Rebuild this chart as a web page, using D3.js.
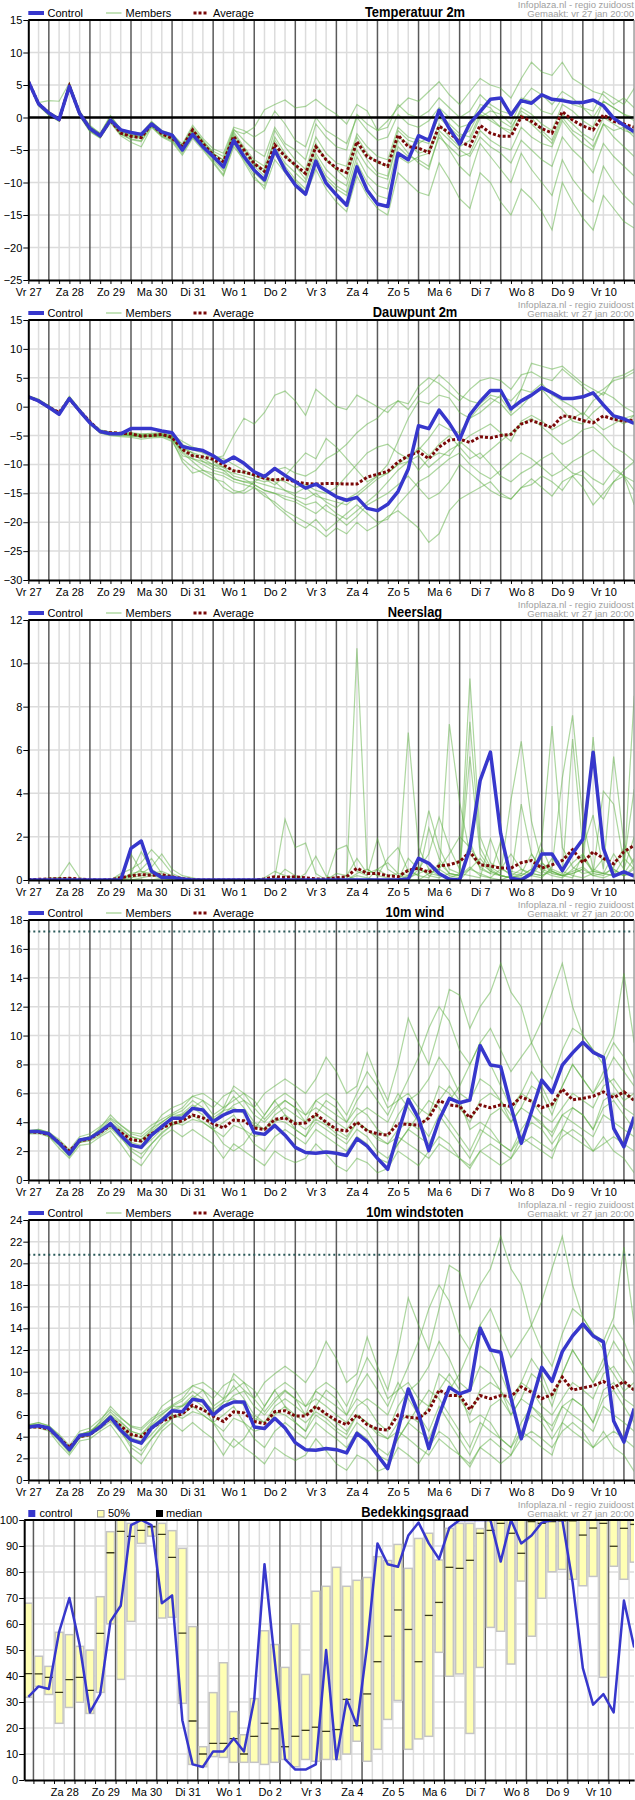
<!DOCTYPE html>
<html>
<head>
<meta charset="utf-8">
<script src="https://cdn.jsdelivr.net/npm/d3@7"></script>
<style>
body { margin: 0; background: #fff; }
svg { display: block; }
</style>
</head>
<body>
<div id="chart"></div>
<script>
// ---- data (6-hourly, Fri 27 18:00 .. Sat 11 06:00) ----
var firstLabel = "Vr 27";
var dayLabels = ["Za 28","Zo 29","Ma 30","Di 31","Wo 1","Do 2","Vr 3","Za 4","Zo 5","Ma 6","Di 7","Wo 8","Do 9","Vr 10"];
var sourceText = "Infoplaza.nl - regio zuidoost";
var madeText = "Gemaakt: vr 27 jan 20:00";

var tempTicks = [-25,-20,-15,-10,-5,0,5,10,15];
var tempControl = [5.6,2.1,0.7,-0.3,4.8,0.6,-1.7,-2.8,-0.4,-1.9, -2.3,-2.6,-1.0,-2.2,-2.7,-5.0,-2.6,-4.5,-6.0,-7.6, -3.5,-6.0,-8.1,-9.6,-5.0,-8.1,-10.4,-11.8,-6.7,-10.1, -11.9,-13.5,-7.6,-11.2,-13.3,-13.7,-5.5,-6.5,-2.8,-3.5, 1.1,-1.7,-4.1,-0.9,0.9,2.8,3.0,0.4,2.6,2.2, 3.5,2.8,2.6,2.3,2.3,2.7,1.8,-0.1,-1.2,-2.2];
var tempAverage = [5.6,2.1,0.7,-0.3,4.8,0.6,-1.7,-2.8,-0.4,-2.4, -2.9,-3.1,-1.0,-2.5,-3.2,-4.5,-1.9,-4.0,-5.8,-6.8, -2.9,-5.0,-7.1,-8.3,-4.2,-6.0,-7.3,-8.6,-4.5,-6.5, -7.8,-8.5,-3.7,-6.0,-6.8,-7.5,-2.7,-4.5,-4.7,-5.4, -1.3,-2.4,-3.7,-4.4,-1.2,-2.4,-2.9,-2.9,0.1,-0.6, -1.7,-2.4,0.9,-0.4,-1.3,-1.9,0.4,-0.6,-1.0,-1.5];
var tempMembers = [
  [5.6,2.3,2.6,2.5,5.3,1.0,-1.2,-2.5,0.2,-1.8,-2.2,-2.4,-0.6,-2.0,-2.5, -4.2,-1.8,-3.5,-5.5,-6.5,-2.0,-2.5,-1.5,1.2,2.0,2.7,1.5,1.7,2.8,1.5, 0.5,-1.0,2.0,1.0,-2.0,-0.5,1.5,3.0,2.5,4.0,5.5,3.5,2.0,4.0,6.0, 5.0,4.5,3.0,6.0,8.5,7.0,6.5,8.5,6.0,5.0,4.0,3.5,2.0,3.0,1.5],
  [5.5,1.8,0.3,-0.6,4.6,0.2,-2.2,-3.2,-0.8,-2.8,-3.8,-4.5,-1.5,-3.0,-3.8, -5.8,-3.2,-5.0,-7.0,-9.0,-4.5,-6.5,-9.0,-11.0,-6.5,-8.5,-10.5,-12.0,-8.0,-11.0, -13.0,-14.5,-9.0,-12.0,-14.0,-15.0,-8.5,-10.0,-11.5,-12.0,-7.0,-9.5,-12.5,-14.0,-8.5, -10.0,-13.0,-15.0,-11.0,-12.5,-14.5,-17.3,-10.0,-13.0,-15.5,-17.3,-12.0,-14.0,-16.0,-17.0],
  [5.6,2.0,0.8,-0.2,5.0,0.8,-1.5,-2.6,0.0,-2.2,-2.7,-2.9,-0.8,-2.4,-3.0, -4.6,-2.0,-3.8,-5.5,-6.6,-2.2,-4.5,-6.5,-7.5,-2.0,-4.5,-6.5,-8.0,-3.0,-5.5, -7.0,-7.5,-2.5,-4.5,-6.0,-6.5,-1.5,-3.0,-3.5,-4.0,0.5,-1.0,-2.5,-3.0,0.5, -0.5,-1.5,-2.0,1.5,0.5,-1.0,-2.0,2.0,1.0,-0.5,-1.5,2.5,1.5,0.5,0.0],
  [5.4,1.9,0.4,-0.5,4.7,0.4,-2.0,-3.0,-0.6,-2.6,-3.3,-3.6,-1.3,-2.8,-3.5, -5.2,-2.8,-4.5,-6.5,-8.2,-3.8,-6.2,-8.5,-10.0,-5.5,-8.2,-9.8,-11.5,-6.0,-9.0, -10.5,-11.5,-6.0,-9.0,-10.5,-11.0,-4.5,-6.0,-6.5,-7.5,-3.0,-4.5,-6.0,-5.5,-2.0, -3.5,-4.5,-5.0,-1.5,-3.0,-4.0,-4.5,-0.5,-2.5,-4.0,-5.0,-1.0,-3.0,-4.5,-6.0],
  [5.6,2.1,0.6,-0.3,4.9,0.7,-1.6,-2.7,-0.3,-2.1,-2.5,-2.8,-0.9,-2.3,-2.9, -4.4,-1.5,-3.6,-5.2,-6.0,-1.8,-3.5,-5.0,-6.0,-1.5,-4.0,-5.0,-6.5,-1.0,-3.0, -4.5,-5.0,0.5,-1.0,-2.0,-1.5,2.0,0.5,0.0,1.0,3.0,1.5,0.0,1.0,3.5, 2.0,1.0,0.5,3.0,2.5,1.0,0.5,3.0,2.0,1.5,0.0,2.5,1.5,0.5,-0.5],
  [5.6,2.0,0.5,-0.4,4.8,0.5,-1.9,-2.9,-0.5,-2.4,-3.0,-3.2,-1.1,-2.6,-3.3, -4.9,-2.4,-4.2,-6.0,-7.5,-3.0,-5.5,-7.5,-9.0,-4.5,-7.0,-8.5,-10.0,-5.5,-8.0, -9.5,-10.5,-5.0,-7.5,-9.0,-9.5,-3.5,-5.5,-7.0,-8.0,-2.5,-5.0,-7.5,-9.0,-4.0, -6.0,-8.0,-10.0,-5.5,-8.0,-10.0,-12.0,-6.5,-9.5,-11.5,-13.0,-7.5,-10.0,-12.0,-13.5],
  [5.5,2.2,0.9,0.0,5.2,0.9,-1.4,-2.4,0.3,-1.8,-2.3,-2.6,-0.7,-2.1,-2.6, -4.1,-1.2,-3.2,-4.8,-5.5,-1.5,-2.0,-3.0,-2.0,1.0,-1.0,-3.5,-4.5,0.0,-2.0, -3.0,-4.0,0.0,-2.0,-3.5,-3.0,0.5,-1.0,-1.5,-0.5,1.5,0.0,-1.5,-1.0,2.0, 1.5,-0.5,-1.5,1.0,0.0,-2.0,-3.5,0.5,-1.0,-2.5,-3.5,0.0,-1.0,-2.0,-2.5],
  [5.7,2.1,0.6,-0.2,5.1,0.6,-1.7,-2.8,-0.1,-2.0,-2.6,-3.0,-0.8,-2.2,-2.8, -4.6,-2.0,-4.0,-5.8,-7.0,-2.5,-4.8,-7.0,-8.5,-3.0,-5.5,-7.5,-9.5,-4.5,-6.5, -8.0,-9.5,-4.0,-6.5,-8.5,-9.0,-3.0,-4.0,-5.5,-5.0,-1.0,-3.0,-4.5,-3.5,0.0, 1.0,0.5,-1.0,2.5,4.5,3.5,2.0,4.0,3.0,1.5,1.0,4.0,3.0,2.0,4.5],
  [5.5,1.9,0.5,-0.5,4.7,0.3,-2.1,-3.1,-0.7,-2.5,-3.4,-3.7,-1.4,-2.9,-3.6, -5.5,-3.0,-4.8,-6.8,-8.8,-4.0,-6.8,-9.5,-10.5,-5.0,-7.5,-9.5,-11.0,-6.5,-9.5, -11.0,-12.0,-7.0,-10.0,-12.0,-12.5,-6.0,-7.0,-6.0,-5.5,-2.0,-3.5,-5.0,-6.0,-3.0, -4.5,-5.5,-7.0,-3.5,-5.0,-6.5,-7.5,-3.0,-5.0,-6.5,-8.5,-4.0,-6.0,-7.5,-9.0],
  [5.6,2.0,0.7,-0.3,4.9,0.6,-1.8,-2.8,-0.3,-2.3,-2.9,-3.1,-1.0,-2.5,-3.1, -4.8,-2.2,-4.1,-5.9,-7.2,-2.8,-5.0,-7.0,-8.0,-3.5,-6.0,-7.5,-8.8,-4.0,-6.5, -8.0,-8.5,-3.0,-5.5,-7.0,-7.5,-2.0,-3.5,-4.0,-3.0,0.0,-1.5,-3.0,-2.0,1.0, 0.0,-1.5,-2.5,0.5,-1.0,-2.5,-4.0,0.0,-2.0,-3.0,-4.5,-1.0,-2.0,-1.5,-3.0]
];

var dewTicks = [-30,-25,-20,-15,-10,-5,0,5,10,15];
var dewControl = [1.7,1.0,-0.1,-1.3,1.4,-0.75,-2.8,-4.3,-4.7,-4.7, -3.8,-3.8,-3.8,-4.2,-4.5,-6.9,-7.3,-7.6,-8.5,-9.7, -8.7,-9.8,-11.3,-12.1,-10.7,-11.9,-13.0,-14.1,-13.4,-14.5, -15.6,-16.2,-15.7,-17.6,-18.0,-16.9,-14.7,-10.8,-3.3,-3.8, -0.6,-2.9,-5.7,-1.4,0.9,2.8,2.8,-0.4,1.0,2.0, 3.3,2.4,1.4,1.4,1.7,2.4,0.3,-1.6,-2.1,-2.9];
var dewAverage = [1.7,1.0,-0.1,-1.0,1.3,-0.7,-2.6,-4.3,-4.5,-4.6, -4.7,-5.1,-5.0,-4.8,-5.3,-7.4,-8.5,-8.7,-9.1,-10.1, -11.1,-11.3,-11.8,-12.4,-12.7,-12.5,-13.0,-13.3,-13.4,-13.3, -13.3,-13.4,-13.4,-12.2,-11.7,-11.2,-9.6,-8.5,-7.8,-9.0, -7.0,-5.8,-5.6,-6.2,-5.2,-5.4,-5.0,-4.8,-3.0,-2.4, -3.0,-3.6,-1.6,-1.8,-2.4,-2.8,-1.6,-2.2,-2.5,-2.3];
var dewMembers = [
  [1.8,1.2,0.2,-1.0,1.7,-0.5,-2.6,-4.1,-4.4,-4.5,-4.6,-4.8,-4.7,-4.6,-5.0, -6.5,-7.5,-8.0,-9.0,-8.5,-5.0,-2.0,-3.0,-1.0,2.0,2.7,1.0,-1.5,3.0,1.5, 0.0,-0.5,2.0,1.0,0.0,-1.0,1.0,-0.5,2.0,3.5,5.5,4.0,2.0,1.0,0.5, 2.0,1.5,-1.0,3.0,7.5,7.0,6.5,7.0,5.5,4.0,3.0,2.0,5.0,5.5,6.5],
  [1.6,0.9,-0.3,-1.5,1.2,-1.0,-3.0,-4.6,-5.0,-5.2,-5.3,-5.6,-5.4,-5.3,-6.0, -9.0,-10.5,-11.5,-12.5,-13.0,-14.5,-15.0,-14.0,-15.5,-16.5,-18.0,-19.0,-20.0,-21.0,-22.5, -21.0,-22.0,-20.0,-21.5,-20.5,-19.0,-18.0,-19.5,-21.0,-23.5,-22.0,-18.0,-16.0,-15.0,-14.0, -13.0,-15.0,-16.0,-14.0,-13.5,-12.0,-13.0,-14.5,-12.0,-11.0,-12.5,-13.5,-11.0,-12.0,-13.0],
  [1.7,1.0,-0.1,-1.2,1.5,-0.7,-2.7,-4.3,-4.6,-4.7,-4.9,-5.0,-5.0,-4.9,-5.5, -7.5,-8.5,-9.0,-10.0,-11.0,-11.5,-12.0,-12.5,-13.0,-12.5,-13.0,-14.0,-13.5,-14.5,-15.0, -14.0,-12.0,-10.0,-8.0,-7.0,-6.5,-8.0,-9.0,-7.5,-5.5,-3.0,-4.0,-4.5,-2.0,-1.0, 0.5,2.0,1.0,3.0,2.5,4.0,2.0,1.0,0.0,-1.5,1.0,2.5,1.5,0.0,-1.0],
  [1.8,1.1,0.0,-1.1,1.6,-0.6,-2.7,-4.2,-4.5,-4.6,-4.7,-4.9,-4.9,-4.8,-5.2, -7.0,-8.0,-9.5,-10.0,-10.5,-12.0,-12.5,-13.5,-14.5,-15.0,-16.0,-16.5,-17.5,-18.5,-17.0, -18.5,-19.5,-18.0,-16.5,-15.0,-13.0,-11.0,-9.5,-7.0,-8.5,-6.5,-5.0,-7.0,-9.0,-8.0, -10.0,-12.0,-13.0,-11.5,-10.5,-9.0,-8.0,-10.0,-11.5,-12.0,-14.0,-16.0,-13.0,-11.0,-9.5],
  [1.7,1.0,-0.2,-1.3,1.4,-0.8,-2.8,-4.4,-4.8,-4.9,-5.0,-5.2,-5.1,-5.0,-5.4, -8.0,-9.5,-11.0,-11.5,-12.0,-13.0,-13.5,-14.0,-15.0,-17.0,-18.5,-20.0,-21.0,-19.5,-21.5, -20.0,-18.5,-17.0,-18.5,-20.0,-19.5,-17.0,-15.0,-13.0,-12.0,-10.5,-9.0,-8.0,-10.0,-11.5, -12.5,-11.0,-9.5,-8.0,-9.0,-10.5,-12.0,-11.0,-9.5,-8.5,-7.5,-9.0,-10.5,-12.0,-14.5],
  [1.9,1.3,0.1,-1.0,1.8,-0.4,-2.5,-4.0,-4.4,-4.5,-4.5,-4.7,-4.6,-4.5,-4.9, -6.0,-7.0,-7.5,-8.5,-9.0,-10.0,-11.0,-12.0,-12.5,-13.5,-12.0,-10.0,-8.0,-9.0,-5.5, -7.0,-9.0,-11.0,-13.0,-12.0,-10.0,-6.0,-2.0,1.0,0.5,2.0,1.5,-1.0,-2.0,0.0, 1.5,0.5,-1.5,0.0,2.0,3.0,1.0,-0.5,-2.5,-3.0,-1.0,0.5,-2.0,-3.0,-1.5],
  [1.6,0.9,-0.2,-1.4,1.3,-0.9,-2.9,-4.5,-4.9,-5.0,-5.1,-5.3,-5.2,-5.2,-5.7, -9.5,-11.5,-11.0,-12.0,-14.0,-15.0,-14.5,-13.0,-12.0,-13.0,-14.5,-15.5,-16.0,-15.0,-16.5, -17.5,-16.0,-15.0,-13.5,-12.0,-11.5,-10.0,-8.5,-11.0,-9.0,-8.0,-8.5,-6.0,-7.5,-9.0, -7.5,-6.0,-4.5,-3.0,-2.0,-3.5,-5.0,-6.5,-5.5,-4.0,-3.5,-5.0,-7.0,-8.0,-9.5],
  [1.7,1.1,0.0,-1.2,1.5,-0.7,-2.7,-4.2,-4.6,-4.6,-4.8,-5.0,-4.9,-4.8,-5.3, -7.2,-8.0,-8.5,-9.5,-10.5,-11.0,-11.5,-12.0,-12.0,-11.0,-10.5,-11.5,-12.0,-11.0,-9.0, -8.0,-6.5,-4.5,-3.0,-2.0,0.0,1.0,0.5,3.5,5.0,4.0,2.5,1.0,3.0,4.5, 5.0,4.5,3.0,5.5,6.0,5.0,4.5,6.5,5.0,3.5,2.0,3.0,4.5,5.0,6.0],
  [1.8,1.0,-0.1,-1.3,1.5,-0.6,-2.8,-4.3,-4.7,-4.8,-4.9,-5.1,-5.0,-4.9,-5.5, -8.5,-9.0,-10.0,-11.0,-11.5,-12.5,-13.0,-13.5,-14.5,-15.0,-15.5,-16.0,-17.0,-16.5,-18.0, -19.0,-20.5,-19.0,-17.0,-16.0,-15.0,-13.5,-12.0,-14.0,-16.0,-15.0,-13.0,-10.0,-11.5,-13.0, -14.5,-15.5,-16.0,-14.0,-12.5,-14.0,-15.5,-13.0,-12.0,-14.0,-17.0,-15.0,-13.0,-12.0,-17.0],
  [1.7,1.0,-0.1,-1.2,1.4,-0.8,-2.8,-4.3,-4.7,-4.8,-5.0,-5.2,-5.1,-5.0,-5.5, -7.8,-9.0,-9.5,-10.5,-11.0,-12.5,-13.0,-13.0,-13.5,-14.0,-14.5,-15.0,-14.0,-15.5,-16.0, -16.5,-17.0,-15.5,-14.0,-12.5,-11.5,-10.0,-9.5,-8.5,-10.5,-9.0,-7.5,-6.5,-5.0,-4.0, -3.0,-4.5,-6.0,-2.5,-1.5,-2.5,-4.0,-3.0,-2.0,-1.0,-2.5,-4.0,-3.0,-2.0,-1.5]
];

var rainTicks = [0,2,4,6,8,10,12];
var rainControl = [0,0,0,0,0,0,0,0,0,0, 1.46,1.8,0.4,0.12,0.12,0.05,0,0,0,0, 0,0,0,0,0,0,0,0,0,0, 0,0,0,0,0,0,0,0.05,1.0,0.77, 0.3,0.03,0,1.46,4.6,5.9,2.15,0.08,0,0.3, 1.2,1.2,0.43,1.23,1.88,5.9,1.46,0.18,0.38,0.18];
var rainAverage = [0.02,0.03,0.05,0.06,0.08,0.04,0.01,0,0.01,0.1, 0.2,0.25,0.22,0.25,0.15,0.06,0.02,0,0,0, 0,0,0,0.05,0.15,0.12,0.15,0.1,0.05,0.05, 0.1,0.15,0.55,0.3,0.3,0.2,0.15,0.45,0.55,0.35, 0.65,0.7,0.85,1.3,0.7,0.65,0.55,0.55,0.8,0.9, 0.55,0.7,0.9,1.4,0.8,1.3,1.0,0.75,1.3,1.6];
var rainMembers = [
  [0,0,0.1,0.1,0.8,0.1,0,0,0,0.2, 1.2,0.4,0.3,0.2,0.1,0,0,0,0,0, 0,0,0,0,0.1,2.8,1.5,1.7,0.3,0, 0,0.2,1.0,0.3,0.5,0.2,0.3,6.8,1.5,0.5, 0.5,0.2,0.1,1.8,0.5,0.3,0.2,0.1,3.5,1.2, 0.4,0.2,0.1,0.5,1.0,0.4,0.3,1.2,0.5,2.0],
  [0,0,0,0.1,0.1,0,0,0,0,0.3, 0.5,0.8,1.4,0.9,0.3,0.1,0,0,0,0, 0,0,0,0,0,0,0,0,0,0, 0,0,10.7,0.5,0.2,0.1,0,0,0.5,1.2, 2.9,1.5,0.5,9.3,2.0,0.8,0.5,0.3,0.2,0.5, 1.8,7.1,1.5,0.6,0.3,0.4,1.0,0.5,0.2,0.3],
  [0,0,0,0,0,0,0,0,0,0.1, 0.2,0.3,0.6,1.2,0.5,0.2,0.1,0,0,0, 0,0,0,0,0,0,0,0,0,0, 1.4,1.6,0.4,0.2,1.9,0.5,0.2,0.1,0.3,0.5, 0.2,7.2,3.6,1.2,0.6,0.3,1.8,0.4,0.3,0.2, 0.1,0.6,4.7,7.6,2.8,0.5,0.3,0.2,0.4,8.5],
  [0,0,0,0,0,0,0,0,0,0, 0.3,1.3,0.5,0.2,0.1,0,0,0,0,0, 0,0,0,0,0,0,0,0,0,0, 0,0,0.3,0.5,0.2,1.0,1.5,0.4,0.2,2.4, 1.0,0.3,0.2,7.3,1.5,0.6,0.3,3.7,6.4,2.7, 0.8,0.4,0.2,0.3,0.5,6.6,1.5,0.4,0.3,1.0],
  [0,0,0,0,0,0,0,0,0,0, 0.1,0.2,0.3,0.4,0.2,0,0,0,0,0, 0,0,0,0,0,0,0,0.3,1.1,0.2, 0,0,0,0,0,0,0,0.2,1.0,3.2, 1.5,0.5,0.3,0.2,0.1,1.9,0.6,0.2,0.1,0.3, 0.2,0.5,0.3,6.5,1.5,3.0,0.5,5.7,1.7,0.6],
  [0,0,0,0,0,0,0,0,0,0, 0,0,0,0.1,0,0,0,0,0,0, 0,0,0,0.1,0.4,0.2,0.1,0,0,0, 0,0,0,0,0,0,0,1.0,0.5,0.3, 0.2,0.1,0.3,5.7,1.2,0.5,0.2,0.1,0,0.2, 0.8,0.3,0.2,0.1,1.2,0.3,4.1,3.5,0.8,4.2],
  [0,0,0,0,0,0,0,0,0,0, 0.2,0.5,1.0,0.3,0.1,0,0,0,0,0, 0,0,0,0,0,0,0,0,0,0, 0,0,0,0,0,0,0,0,0,0.3, 0.5,1.2,2.0,1.5,0.8,0.4,0.2,0.1,0.3,1.2, 0.5,0.3,0.2,0.4,0.6,0.2,0.1,0.3,0.2,0.5],
  [0,0,0,0,0,0,0,0,0,0, 0,0,0,0,0,0,0,0,0,0, 0,0,0,0,0,0.5,0.2,0,0,0, 0.3,0.2,0,0,0.5,0.8,0.3,0.2,0.6,0.2, 0.1,0.3,0.2,0.5,0.3,0.1,0.5,1.2,0.5,0.3, 0.2,0.4,0.2,0.3,0.5,0.2,0.3,0.5,0.2,0.6],
  [0,0,0,0,0,0,0,0,0,0, 0.3,0.4,0.2,0.1,0,0,0,0,0,0, 0,0,0,0,0,0,0,0,0,0, 0,0,0.2,0.1,0,0,0,0.5,0.2,0.1, 0.8,0.3,0.2,0.6,0.2,0.1,0,0.2,0.5,0.2, 1.5,0.4,0.2,0.8,1.2,0.4,0.3,0.2,1.0,0.5],
  [0,0,0,0,0,0,0,0,0,0, 0,0.1,0.2,0.2,0.1,0,0,0,0,0, 0,0,0,0,0,0,0,0,0,0, 0,0,0,0,0,0,0,0,0,0, 0,0,0,0.5,1.0,0.4,0.2,0.1,0.2,0.5, 0.3,1.0,0.4,0.2,0.1,0.3,0.2,0.6,1.5,0.8]
];

var windTicks = [0,2,4,6,8,10,12,14,16,18];
var windThreshold = 17.2;
var windControl = [3.35,3.35,3.2,2.55,1.8,2.77,2.9,3.35,3.9,3.1, 2.4,2.26,3.1,3.7,4.27,4.27,4.96,4.85,4.04,4.5, 4.8,4.8,3.28,3.16,3.78,3.1,2.26,1.9,1.85,1.94, 1.85,1.7,2.86,2.35,1.5,0.74,3.23,5.58,4.27,2.03, 4.15,5.65,5.35,5.54,9.3,7.96,7.85,5.08,2.54,4.73, 6.92,6.05,7.96,8.8,9.53,8.84,8.5,3.58,2.3,4.38];
var windAverage = [3.35,3.3,3.15,2.6,2.0,2.7,2.85,3.3,3.8,3.3, 2.8,2.7,3.2,3.6,3.9,4.1,4.5,4.3,3.9,3.6, 4.15,4.1,3.6,3.5,4.2,4.3,3.9,3.95,4.55,4.0, 3.5,3.4,4.0,3.4,3.2,3.1,3.9,3.85,3.8,4.3, 5.5,5.2,5.1,4.3,5.2,5.0,5.2,5.1,5.75,5.45, 5.0,5.25,6.3,5.55,5.65,5.8,6.1,5.7,6.1,5.5];
var windMembers = [
  [3.3,3.4,3.0,2.4,1.6,2.6,2.9,3.6,4.5,3.8, 3.2,3.0,3.6,4.0,4.5,4.8,5.5,5.0,4.2,4.5, 5.2,5.5,4.5,4.0,4.8,5.5,5.0,4.5,5.5,5.0, 4.5,4.0,5.0,4.5,3.5,3.0,4.5,5.5,6.0,7.0, 8.5,7.5,6.0,5.5,7.0,6.5,5.5,4.5,6.0,7.5, 6.5,5.0,6.5,8.0,7.0,6.0,7.5,6.5,5.5,6.0],
  [3.2,3.2,3.0,2.2,1.5,2.4,2.5,3.0,3.4,2.5, 1.5,1.0,2.0,3.0,3.5,3.0,3.5,3.0,2.5,1.5, 2.5,2.0,1.5,1.0,2.0,1.5,1.2,1.5,2.5,1.8, 1.0,0.6,1.5,1.2,0.5,0.8,2.0,1.5,1.0,2.0, 3.0,2.5,1.5,0.8,2.0,1.5,1.0,1.5,3.0,2.5, 2.0,1.5,3.5,3.0,2.5,2.0,3.0,2.0,1.5,0.5],
  [3.4,3.5,3.3,2.7,2.0,2.8,3.0,3.5,4.2,3.6, 3.0,2.8,3.4,4.0,4.5,4.5,5.0,5.5,5.0,5.8, 6.2,5.5,5.0,6.0,6.5,7.0,6.5,6.0,7.0,8.5, 7.5,6.0,6.5,8.8,7.0,5.5,8.0,11.2,9.5,8.0, 10.5,13.2,12.8,10.5,12.0,13.0,15.0,13.0,12.0,9.5, 11.0,13.0,15.0,12.0,10.0,9.0,8.5,10.0,14.3,9.5],
  [3.3,3.3,3.1,2.5,1.8,2.7,2.8,3.2,3.8,3.2, 2.5,2.2,2.8,3.5,4.0,3.8,4.2,4.0,3.5,3.0, 3.8,3.5,3.0,3.2,4.0,4.5,4.0,3.5,4.2,3.8, 3.2,2.8,4.0,3.5,2.8,2.5,3.5,4.0,3.5,4.5, 6.5,6.0,5.0,4.0,5.5,6.0,5.5,4.0,5.0,4.5, 3.8,3.3,4.5,4.0,3.5,3.0,4.5,4.0,3.5,3.0],
  [3.3,3.4,3.2,2.6,1.9,2.8,3.0,3.4,4.0,3.5, 3.0,2.8,3.5,4.5,5.0,5.3,5.8,6.0,5.5,5.0, 5.5,6.0,5.5,4.5,5.5,6.0,5.5,4.5,5.0,4.5, 4.0,3.5,4.5,5.0,4.5,4.0,5.5,7.0,8.5,10.5, 12.0,11.0,9.0,8.0,9.5,10.5,9.0,7.5,8.5,9.5, 8.0,7.0,9.0,10.5,10.0,9.0,8.0,9.5,8.5,7.0],
  [3.2,3.3,3.1,2.5,1.7,2.6,2.7,3.1,3.6,2.9, 2.2,1.8,2.5,3.3,3.8,4.0,4.5,4.0,3.5,4.0, 4.5,3.5,2.5,2.0,3.0,3.5,3.0,2.5,3.5,3.0, 2.5,2.0,3.0,2.5,1.5,1.2,2.5,3.5,4.5,5.5, 5.0,4.0,3.0,2.0,3.5,3.0,2.5,2.0,3.5,4.5, 4.0,3.0,4.5,5.0,4.5,3.5,5.0,5.5,4.5,3.5],
  [3.4,3.4,3.2,2.6,1.8,2.7,2.9,3.3,3.9,3.4, 2.8,2.6,3.3,3.8,4.3,4.6,5.2,4.8,4.0,4.8, 5.8,5.0,4.0,3.5,4.5,5.0,4.5,4.0,5.5,6.0, 5.5,4.5,6.0,7.5,6.5,5.0,5.5,6.0,5.0,4.5, 5.5,6.5,5.5,3.5,4.0,3.5,2.5,2.0,3.0,4.0, 3.5,2.5,3.5,5.0,4.5,3.5,5.5,6.0,5.0,4.5],
  [3.3,3.3,3.1,2.5,1.7,2.6,2.8,3.3,3.7,3.0, 2.0,1.5,2.5,3.2,3.8,4.2,5.0,4.5,3.5,2.5, 2.0,2.5,3.5,4.5,5.5,4.5,3.5,3.0,4.5,5.5, 5.0,4.0,5.5,6.5,5.5,4.5,6.0,5.0,4.0,3.0, 4.5,3.5,2.5,1.5,3.0,4.5,5.0,4.0,5.0,6.5, 6.0,4.5,6.5,8.0,7.0,6.0,7.0,8.5,7.5,6.5],
  [3.3,3.4,3.2,2.5,1.9,2.8,3.0,3.4,4.0,3.3, 2.6,2.4,3.2,3.8,4.2,4.5,5.0,4.8,4.3,4.8, 5.0,4.6,3.8,3.5,4.2,4.0,3.5,3.0,4.0,3.5, 3.0,2.5,3.5,3.0,2.0,1.5,2.5,3.5,3.0,2.5, 4.0,5.5,6.5,8.0,9.5,8.0,6.5,5.0,6.0,5.5, 4.5,4.0,5.0,6.0,5.5,5.0,6.5,7.0,6.0,5.5],
  [3.4,3.5,3.3,2.8,2.1,3.0,3.2,3.7,4.3,3.8, 3.3,3.2,3.8,4.2,4.6,5.0,5.8,5.5,4.5,5.0, 6.5,6.0,5.0,4.2,5.0,5.5,5.0,4.0,4.5,4.0, 3.5,3.0,4.0,3.5,3.0,2.5,3.0,2.5,2.0,1.5, 2.5,2.0,1.5,1.0,2.0,2.5,2.0,1.5,2.5,3.0, 2.5,2.0,3.0,3.5,3.0,2.0,2.5,3.0,2.5,2.0]
];

var gustTicks = [0,2,4,6,8,10,12,14,16,18,20,22,24];
var gustThreshold = 20.8;
var gustControl = [4.9,5.0,4.8,3.85,2.8,4.1,4.25,4.9,5.8,4.6, 3.7,3.4,4.8,5.5,6.4,6.3,7.45,7.3,6.0,6.8, 7.2,7.2,4.9,4.75,5.7,4.8,3.45,2.8,2.75,2.9, 2.8,2.5,4.3,3.55,2.3,1.05,4.6,8.4,6.15,2.9, 6.0,8.55,7.95,8.3,14.0,12.0,11.8,7.55,3.8,7.1, 10.4,9.1,11.85,13.3,14.4,13.3,12.75,5.45,3.5,6.6];
var gustAverage = [4.9,4.9,4.7,3.9,3.0,4.0,4.2,4.9,5.7,5.0, 4.2,4.0,4.8,5.4,5.8,6.1,6.9,6.5,5.9,5.4, 6.3,6.2,5.4,5.2,6.3,6.4,5.9,5.9,6.8,6.1, 5.5,5.1,6.0,5.1,4.7,4.6,6.0,5.8,5.7,6.4, 8.3,7.8,7.8,6.5,7.8,7.5,7.8,7.7,8.6,8.1, 7.5,7.9,9.5,8.3,8.5,8.7,9.1,8.5,9.1,8.3];
var gustMembers = [
  [5.0,5.1,4.6,3.6,2.5,3.9,4.3,5.4,6.8,5.8, 4.9,4.6,5.5,6.1,6.8,7.3,8.2,7.5,6.3,6.8, 7.8,8.2,6.8,6.0,7.2,8.2,7.5,6.8,8.2,7.5, 6.8,6.0,7.5,6.8,5.3,4.5,6.8,8.2,9.0,10.5, 12.8,11.2,9.0,8.2,10.5,9.8,8.2,6.8,9.0,11.2, 9.8,7.5,9.8,12.0,10.5,9.0,11.2,9.8,8.2,9.0],
  [4.8,4.8,4.5,3.3,2.3,3.6,3.8,4.5,5.1,3.8, 2.3,1.5,3.0,4.5,5.3,4.5,5.3,4.5,3.8,2.3, 3.8,3.0,2.3,1.5,3.0,2.3,1.8,2.3,3.8,2.7, 1.5,0.9,2.3,1.8,0.8,1.2,3.0,2.3,1.5,3.0, 4.5,3.8,2.3,1.2,3.0,2.3,1.5,2.3,4.5,3.8, 3.0,2.3,5.3,4.5,3.8,3.0,4.5,3.0,2.3,0.8],
  [5.1,5.3,5.0,4.1,3.0,4.2,4.5,5.3,6.3,5.4, 4.5,4.2,5.1,6.0,6.8,6.8,7.5,8.3,7.5,8.7, 9.3,8.3,7.5,9.0,9.8,10.5,9.8,9.0,10.5,12.8, 11.2,9.0,9.8,13.2,10.5,8.3,12.0,16.8,14.3,12.0, 15.8,19.8,19.2,15.8,18.0,19.5,22.5,19.5,18.0,14.3, 16.5,19.5,22.5,18.0,15.0,13.5,12.8,15.0,21.5,14.3],
  [5.0,5.0,4.7,3.8,2.7,4.1,4.2,4.8,5.7,4.8, 3.8,3.3,4.2,5.3,6.0,5.7,6.3,6.0,5.3,4.5, 5.7,5.3,4.5,4.8,6.0,6.8,6.0,5.3,6.3,5.7, 4.8,4.2,6.0,5.3,4.2,3.8,5.3,6.0,5.3,6.8, 9.8,9.0,7.5,6.0,8.3,9.0,8.3,6.0,7.5,6.8, 5.7,5.0,6.8,6.0,5.3,4.5,6.8,6.0,5.3,4.5],
  [5.0,5.1,4.8,3.9,2.9,4.2,4.5,5.1,6.0,5.3, 4.5,4.2,5.3,6.8,7.5,8.0,8.7,9.0,8.3,7.5, 8.3,9.0,8.3,6.8,8.3,9.0,8.3,6.8,7.5,6.8, 6.0,5.3,6.8,7.5,6.8,6.0,8.3,10.5,12.8,15.8, 18.0,16.5,13.5,12.0,14.3,15.8,13.5,11.3,12.8,14.3, 12.0,10.5,13.5,15.8,15.0,13.5,12.0,14.3,12.8,10.5],
  [4.8,5.0,4.7,3.8,2.6,3.9,4.1,4.7,5.4,4.4, 3.3,2.7,3.8,5.0,5.7,6.0,6.8,6.0,5.3,6.0, 6.8,5.3,3.8,3.0,4.5,5.3,4.5,3.8,5.3,4.5, 3.8,3.0,4.5,3.8,2.3,1.8,3.8,5.3,6.8,8.3, 7.5,6.0,4.5,3.0,5.3,4.5,3.8,3.0,5.3,6.8, 6.0,4.5,6.8,7.5,6.8,5.3,7.5,8.3,6.8,5.3],
  [5.1,5.1,4.8,3.9,2.7,4.1,4.4,5.0,5.9,5.1, 4.2,3.9,5.0,5.7,6.5,6.9,7.8,7.2,6.0,7.2, 8.7,7.5,6.0,5.3,6.8,7.5,6.8,6.0,8.3,9.0, 8.3,6.8,9.0,11.3,9.8,7.5,8.3,9.0,7.5,6.8, 8.3,9.8,8.3,5.3,6.0,5.3,3.8,3.0,4.5,6.0, 5.3,3.8,5.3,7.5,6.8,5.3,8.3,9.0,7.5,6.8],
  [5.0,5.0,4.7,3.8,2.6,3.9,4.2,5.0,5.6,4.5, 3.0,2.3,3.8,4.8,5.7,6.3,7.5,6.8,5.3,3.8, 3.0,3.8,5.3,6.8,8.3,6.8,5.3,4.5,6.8,8.3, 7.5,6.0,8.3,9.8,8.3,6.8,9.0,7.5,6.0,4.5, 6.8,5.3,3.8,2.3,4.5,6.8,7.5,6.0,7.5,9.8, 9.0,6.8,9.8,12.0,10.5,9.0,10.5,12.8,11.3,9.8],
  [5.0,5.1,4.8,3.8,2.9,4.2,4.5,5.1,6.0,5.0, 3.9,3.6,4.8,5.7,6.3,6.8,7.5,7.2,6.5,7.2, 7.5,6.9,5.7,5.3,6.3,6.0,5.3,4.5,6.0,5.3, 4.5,3.8,5.3,4.5,3.0,2.3,3.8,5.3,4.5,3.8, 6.0,8.3,9.8,12.0,14.3,12.0,9.8,7.5,9.0,8.3, 6.8,6.0,7.5,9.0,8.3,7.5,9.8,10.5,9.0,8.3],
  [5.1,5.3,5.0,4.2,3.2,4.5,4.8,5.6,6.5,5.7, 5.0,4.8,5.7,6.3,6.9,7.5,8.7,8.3,6.8,7.5, 9.8,9.0,7.5,6.3,7.5,8.3,7.5,6.0,6.8,6.0, 5.3,4.5,6.0,5.3,4.5,3.8,4.5,3.8,3.0,2.3, 3.8,3.0,2.3,1.5,3.0,3.8,3.0,2.3,3.8,4.5, 3.8,3.0,4.5,5.3,4.5,3.0,3.8,4.5,3.8,3.0]
];

var cloudTicks = [0,10,20,30,40,50,60,70,80,90,100];
var cloudControl = [32,36,35,57,70,52,26,33,61,67, 98,100,98,68,71,23,6,5,11,11, 16,11,31,83,46,8,4,4,6,50, 8,31,21,52,91,83,82,94,99,91, 85,97,100,100,100,100,84,100,91,94, 99,100,100,76,43,29,33,26,69,51];
var cloudHigh = [68,47.6,43.7,56.8,55.9,51.4,49.9,70.5,95.5,100, 98.7,100,97.7,98.7,95.9,89.1,59,12.8,33.6,45.1, 26.3,17.4,31.3,57.4,52.1,43.3,60.1,40.6,72.6,74.5, 81.8,74.5,76.8,77.9,85.9,84.4,90.6,81.4,92.9,94.9, 84.6,96.8,98.7,98.7,96.7,100,100,100,100,100, 100,100,100,100,100,100,100,100,100,100];
var cloudLow = [31.8,36,32.9,21.8,27.9,29.9,25.6,33.7,60.1,38.7, 61,91,93.8,62.3,62.6,29.5,6,5.1,9,8.7, 6.8,6.8,6.8,6,6.8,7.9,5.1,7.9,7.2,7.9, 7.9,10,14.9,7.2,11.8,23.3,30.6,11.8,15.8,16.8, 49.1,39.9,40.8,17.9,43.3,58.7,57.2,44.6,76.5,55.3, 69.9,80.1,81,77.2,74.7,78.3,39.5,82.2,77.2,83.8];
var cloudMedian = [40.9,40.8,39.5,33.7,38.6,39.5,34.5,56.4,87.4,95.6, 93.7,96,97.4,94.5,85.6,56.5,22.7,10,14.1,14.1, 15.9,10,16.8,21.8,19.7,12.8,16.8,19.1,20.3,18.7, 19.4,31,20.9,33.1,45.5,55.3,65.4,57.9,45.5,63.3, 68.3,81.8,81.4,84.5,94.9,96,98.7,94.9,87.2,99.4, 98.7,99.4,99.7,99.7,94.2,96.9,98.7,89.9,96.8,98.3];

// ---- layout ----
var font = "'Liberation Sans', Arial, sans-serif";
var W = 635, panelH = 300;
var plotTop = 20, plotBottom = 280, plotRight = 634;
var blue = "#3737cc", memberGreen = "#5cb040", avgRed = "#7a0808";
var lightGrid = "#dcdcdc", darkGrid = "#5a5a5a";

var svg = d3.select("#chart").append("svg")
  .attr("width", W).attr("height", panelH * 6)
  .style("font-family", font);

var x = d3.scaleLinear().domain([0, 59]).range([28.3, 634.2]);
var steps = d3.range(0, 60);

function header(g, title, legend) {
  g.append("text").attr("x", plotRight).attr("y", 7.5).attr("text-anchor", "end")
    .attr("font-size", 9.5).attr("fill", "#a0a0a0").text(sourceText);
  g.append("text").attr("x", plotRight).attr("y", 16.5).attr("text-anchor", "end")
    .attr("font-size", 9.5).attr("fill", "#a0a0a0").text(madeText);
  var t = g.append("text").attr("x", 415).attr("y", 17).attr("text-anchor", "middle")
    .attr("font-size", 15).attr("font-weight", "bold").attr("fill", "#000").text(title);
  var len = t.node().getComputedTextLength();
  t.attr("textLength", len * 0.86).attr("lengthAdjust", "spacingAndGlyphs");
  legend(g);
}

function lineLegend(g) {
  g.append("line").attr("x1", 28.3).attr("x2", 44).attr("y1", 13).attr("y2", 13)
    .attr("stroke", blue).attr("stroke-width", 4);
  g.append("text").attr("x", 47.5).attr("y", 17).attr("font-size", 11).text("Control");
  g.append("line").attr("x1", 106).attr("x2", 121.5).attr("y1", 13).attr("y2", 13)
    .attr("stroke", memberGreen).attr("stroke-opacity", 0.6).attr("stroke-width", 1.2);
  g.append("text").attr("x", 125.5).attr("y", 17).attr("font-size", 11).text("Members");
  g.append("line").attr("x1", 193.5).attr("x2", 208.5).attr("y1", 13).attr("y2", 13)
    .attr("stroke", avgRed).attr("stroke-width", 3).attr("stroke-dasharray", "3,2");
  g.append("text").attr("x", 213).attr("y", 17).attr("font-size", 11).text("Average");
}

function cloudLegend(g) {
  g.append("rect").attr("x", 28.3).attr("y", 10).attr("width", 7).attr("height", 7).attr("fill", blue);
  g.append("text").attr("x", 39.5).attr("y", 17).attr("font-size", 11).text("control");
  g.append("rect").attr("x", 97.5).attr("y", 10.5).attr("width", 6.5).attr("height", 6.5)
    .attr("fill", "#ffffb4").attr("stroke", "#9a9a9a").attr("stroke-width", 1);
  g.append("text").attr("x", 108).attr("y", 17).attr("font-size", 11).text("50%");
  g.append("rect").attr("x", 156).attr("y", 10).attr("width", 7).attr("height", 7).attr("fill", "#000");
  g.append("text").attr("x", 166).attr("y", 17).attr("font-size", 11).text("median");
}

function styleAxis(ga) {
  ga.select(".domain").attr("stroke", "#000").attr("stroke-width", 2);
  ga.selectAll(".tick line").attr("stroke", "#000");
  ga.selectAll("text").attr("font-size", 11).attr("font-family", font).attr("fill", "#000");
}

function linePanel(k, cfg) {
  var g = svg.append("g").attr("transform", "translate(0," + (k * panelH) + ")");
  var left = x(0);
  var y = d3.scaleLinear().domain(cfg.domain).range([plotBottom, plotTop]);
  var clipId = "clip" + k;
  g.append("clipPath").attr("id", clipId).append("rect")
    .attr("x", left).attr("y", plotTop).attr("width", plotRight - left).attr("height", plotBottom - plotTop);

  // grid
  g.append("g").selectAll("line").data(cfg.ticks.slice(1, -1)).join("line")
    .attr("x1", left).attr("x2", plotRight).attr("y1", function(d) { return y(d); }).attr("y2", function(d) { return y(d); })
    .attr("stroke", lightGrid).attr("stroke-width", 1.5);
  g.append("g").selectAll("line").data(steps.slice(1)).join("line")
    .attr("x1", function(d) { return x(d); }).attr("x2", function(d) { return x(d); })
    .attr("y1", plotTop).attr("y2", plotBottom)
    .attr("stroke", function(d) { return (d - 2) % 4 === 0 ? darkGrid : lightGrid; })
    .attr("stroke-width", 1.5);

  var line = d3.line().x(function(d, i) { return x(i); }).y(function(d) { return y(d); });
  var plot = g.append("g").attr("clip-path", "url(#" + clipId + ")");
  plot.selectAll(".member").data(cfg.members).join("path").attr("class", "member")
    .attr("d", line).attr("fill", "none").attr("stroke", memberGreen)
    .attr("stroke-opacity", 0.5).attr("stroke-width", 1.2);
  if (cfg.zero) {
    plot.append("line").attr("x1", left).attr("x2", plotRight).attr("y1", y(0)).attr("y2", y(0))
      .attr("stroke", "#000").attr("stroke-width", 2.5);
  }
  if (cfg.threshold != null) {
    plot.append("line").attr("x1", left).attr("x2", plotRight)
      .attr("y1", y(cfg.threshold)).attr("y2", y(cfg.threshold))
      .attr("stroke", "#2a5a5a").attr("stroke-width", 2).attr("stroke-dasharray", "2,3");
  }
  plot.append("path").datum(cfg.average).attr("d", line).attr("fill", "none")
    .attr("stroke", avgRed).attr("stroke-width", 3).attr("stroke-dasharray", "3,2");
  plot.append("path").datum(cfg.control).attr("d", line).attr("fill", "none")
    .attr("stroke", blue).attr("stroke-width", 3.5).attr("stroke-linejoin", "round");

  // axes
  var ya = g.append("g").attr("transform", "translate(" + left + ",0)")
    .call(d3.axisLeft(y).tickValues(cfg.ticks).tickSize(5).tickSizeOuter(0).tickPadding(1));
  styleAxis(ya);
  var xa = g.append("g").attr("transform", "translate(0," + plotBottom + ")")
    .call(d3.axisBottom(x).tickValues(steps).tickSize(4).tickSizeOuter(0).tickFormat(""));
  styleAxis(xa);
  var labelPos = [0].concat(dayLabels.map(function(d, i) { return 4 + 4 * i; }));
  var labelText = [firstLabel].concat(dayLabels);
  var xl = g.append("g").attr("transform", "translate(0," + plotBottom + ")")
    .call(d3.axisBottom(x).tickValues(labelPos).tickSize(0).tickPadding(8)
      .tickFormat(function(d, i) { return labelText[i]; }));
  xl.select(".domain").remove();
  styleAxis(xl);

  g.append("line").attr("x1", left).attr("x2", plotRight).attr("y1", plotTop).attr("y2", plotTop)
    .attr("stroke", "#000").attr("stroke-width", 2);
  g.append("line").attr("x1", plotRight).attr("x2", plotRight).attr("y1", plotTop).attr("y2", plotBottom)
    .attr("stroke", "#888").attr("stroke-width", 1);

  header(g, cfg.title, lineLegend);
}

function cloudPanel(k) {
  var g = svg.append("g").attr("transform", "translate(0," + (k * panelH) + ")");
  var x6 = d3.scaleLinear().domain([-0.4, 59]).range([x(-0.4), x(59)]);
  var left = x6(-0.4);
  var y = d3.scaleLinear().domain([0, 100]).range([plotBottom, plotTop]);
  var clipId = "clip" + k;
  g.append("clipPath").attr("id", clipId).append("rect")
    .attr("x", left).attr("y", plotTop).attr("width", plotRight - left).attr("height", plotBottom - plotTop);

  var halfSteps = steps.slice(0, 59).map(function(d) { return d + 0.5; });
  g.append("g").selectAll("line").data(cloudTicks.slice(1, -1)).join("line")
    .attr("x1", left).attr("x2", plotRight).attr("y1", function(d) { return y(d); }).attr("y2", function(d) { return y(d); })
    .attr("stroke", lightGrid).attr("stroke-width", 1.5);
  g.append("g").selectAll("line").data(halfSteps).join("line")
    .attr("x1", function(d) { return x6(d); }).attr("x2", function(d) { return x6(d); })
    .attr("y1", plotTop).attr("y2", plotBottom)
    .attr("stroke", function(d) { return (d - 0.5) % 4 === 0 ? darkGrid : lightGrid; })
    .attr("stroke-width", 1.5);

  var plot = g.append("g").attr("clip-path", "url(#" + clipId + ")");
  var barW = 8;
  plot.selectAll(".bar").data(steps).join("rect").attr("class", "bar")
    .attr("x", function(i) { return x6(i) - barW / 2; })
    .attr("y", function(i) { return y(cloudHigh[i]); })
    .attr("width", barW)
    .attr("height", function(i) { return y(cloudLow[i]) - y(cloudHigh[i]); })
    .attr("fill", "#ffffb4").attr("stroke", "#c4c4c4").attr("stroke-width", 1.5);
  plot.selectAll(".med").data(steps).join("line").attr("class", "med")
    .attr("x1", function(i) { return x6(i) - barW / 2; }).attr("x2", function(i) { return x6(i) + barW / 2; })
    .attr("y1", function(i) { return y(cloudMedian[i]); }).attr("y2", function(i) { return y(cloudMedian[i]); })
    .attr("stroke", "#3a3a1a").attr("stroke-width", 1.3);
  var line = d3.line().x(function(d, i) { return x6(i); }).y(function(d) { return y(d); });
  plot.append("path").datum(cloudControl).attr("d", line).attr("fill", "none")
    .attr("stroke", blue).attr("stroke-width", 2.5).attr("stroke-linejoin", "round");

  var ya = g.append("g").attr("transform", "translate(" + left + ",0)")
    .call(d3.axisLeft(y).tickValues(cloudTicks).tickSize(5).tickSizeOuter(0).tickPadding(1));
  styleAxis(ya);
  var xa = g.append("g").attr("transform", "translate(0," + plotBottom + ")")
    .call(d3.axisBottom(x6).tickValues(halfSteps).tickSize(4).tickSizeOuter(0).tickFormat(""));
  styleAxis(xa);
  var labelPos = dayLabels.map(function(d, i) { return 3.5 + 4 * i; });
  var xl = g.append("g").attr("transform", "translate(0," + plotBottom + ")")
    .call(d3.axisBottom(x6).tickValues(labelPos).tickSize(0).tickPadding(8)
      .tickFormat(function(d, i) { return dayLabels[i]; }));
  xl.select(".domain").remove();
  styleAxis(xl);

  g.append("line").attr("x1", left).attr("x2", plotRight).attr("y1", plotTop).attr("y2", plotTop)
    .attr("stroke", "#000").attr("stroke-width", 2);

  header(g, "Bedekkingsgraad", cloudLegend);
}

linePanel(0, { title: "Temperatuur 2m", domain: [-25, 15], ticks: tempTicks,
  control: tempControl, average: tempAverage, members: tempMembers, zero: true });
linePanel(1, { title: "Dauwpunt 2m", domain: [-30, 15], ticks: dewTicks,
  control: dewControl, average: dewAverage, members: dewMembers });
linePanel(2, { title: "Neerslag", domain: [0, 12], ticks: rainTicks,
  control: rainControl, average: rainAverage, members: rainMembers });
linePanel(3, { title: "10m wind", domain: [0, 18], ticks: windTicks,
  control: windControl, average: windAverage, members: windMembers, threshold: windThreshold });
linePanel(4, { title: "10m windstoten", domain: [0, 24], ticks: gustTicks,
  control: gustControl, average: gustAverage, members: gustMembers, threshold: gustThreshold });
cloudPanel(5);
</script>
</body>
</html>
